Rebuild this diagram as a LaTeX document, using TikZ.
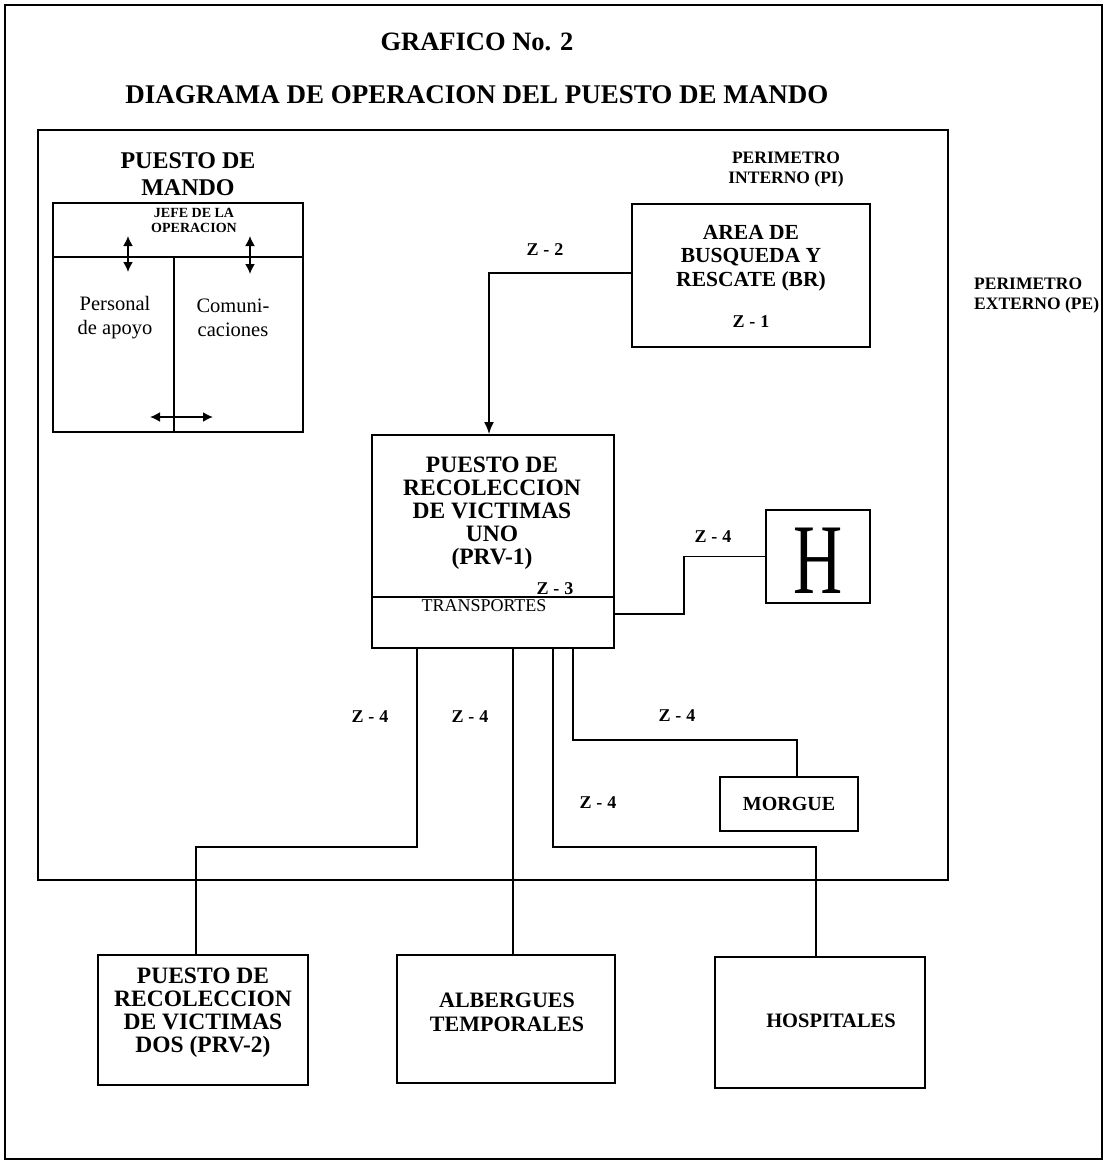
\documentclass[tikz,border=0pt]{standalone}
\usepackage{fontspec}
\setmainfont{Liberation Serif}
\usetikzlibrary{arrows.meta}
\newcommand{\zsp}{\hspace{5pt}}
\begin{document}
\begin{tikzpicture}[x=1pt,y=-1pt,
  box/.style={draw, line width=2pt, inner sep=0pt},
  conn/.style={line width=1.6pt},
  thickconn/.style={line width=2.8pt},
  dbl/.style={line width=1.8pt, {Latex[length=10pt,width=10pt]}-{Latex[length=10pt,width=10pt]}},
  lbl/.style={font=\fontsize{23.5}{23}\selectfont\bfseries, align=center, inner sep=0pt},
  zl/.style={font=\fontsize{18}{20}\selectfont\bfseries, inner sep=0pt},
  sm/.style={font=\fontsize{17.5}{20}\selectfont\bfseries, align=left, inner sep=0pt}]
\useasboundingbox (0,0) rectangle (1105,1163);
% outer frame (PE)
\node[draw, line width=1.5pt, minimum width=1097pt, minimum height=1154pt] (pe) at (553.5,582) {};
% titles
\node[font=\fontsize{26.5}{28}\selectfont\bfseries] (t1) at (477,42) {GRAFICO No. 2};
\node[font=\fontsize{27}{28}\selectfont\bfseries] (t2) at (477,95) {DIAGRAMA DE OPERACION DEL PUESTO DE MANDO};
% inner perimeter (PI)
\node[box, line width=2.4pt, minimum width=910pt, minimum height=750pt] (pi) at (493,505) {};
% Puesto de mando
\node[lbl, font=\fontsize{24}{27}\selectfont\bfseries] (pmt) at (188,174) {PUESTO DE\\MANDO};
\node[box, minimum width=250pt, minimum height=229pt] (pm) at (178,317.5) {};
\coordinate (pmdiv) at (174,257);
\draw[line width=1.6pt] (pm.west |- pmdiv) -- (pm.east |- pmdiv);
\draw[line width=2.6pt] (pmdiv) -- (pm.south -| pmdiv);
\node[font=\fontsize{14}{15}\selectfont\bfseries, align=center, inner sep=0pt] (jefe) at (194,220) {JEFE DE LA\\OPERACION};
\coordinate (a1t) at (128,236); \coordinate (a1b) at (128,272);
\coordinate (a2t) at (250,236); \coordinate (a2b) at (250,274);
\coordinate (a3l) at (150,417); \coordinate (a3r) at (213,417);
\draw[dbl] (a1t) -- (a1b);
\draw[dbl] (a2t) -- (a2b);
\draw[dbl] (a3l) -- (a3r);
\node[font=\fontsize{20.5}{24}\selectfont, align=center, inner sep=0pt] (pers) at (115,318) {Personal\\de apoyo};
\node[font=\fontsize{20.5}{24}\selectfont, align=center, inner sep=0pt] (comu) at (233,318) {Comuni-\\caciones};
% perimeter labels
\node[sm, align=center] (pit) at (786,170) {PERIMETRO\\INTERNO (PI)};
\node[sm, anchor=west] (pet) at (974,296) {PERIMETRO\\EXTERNO (PE)};
% BR
\node[box, minimum width=238pt, minimum height=143pt] (br) at (751,275.5) {};
\node[lbl, font=\fontsize{21.5}{23.5}\selectfont\bfseries] (brt) at (751,258) {AREA DE\\BUSQUEDA Y\\RESCATE (BR)};
\node[zl] (z1) at (751,322) {Z\zsp-\zsp1};
% PRV-1
\node[box, minimum width=242pt, minimum height=213pt] (prv1) at (493,541.5) {};
\coordinate (prvdiv) at (493,597);
\draw[line width=1.6pt] (prv1.west |- prvdiv) -- (prv1.east |- prvdiv);
\node[lbl] (prv1t) at (492,513) {PUESTO DE\\RECOLECCION\\DE VICTIMAS\\UNO\\(PRV-1)};
\node[zl] (z3) at (555,589) {Z\zsp-\zsp3};
\node[font=\fontsize{18}{20}\selectfont, inner sep=0pt] (trans) at (484,606) {TRANSPORTES};
% H box
\node[box, minimum width=104pt, minimum height=93pt] (hbox) at (818,556.5) {};
\node[font=\fontsize{100}{100}\selectfont, inner sep=0pt] (hl) at (818,561) {\scalebox{0.68}[1]{H}};
% Morgue
\node[box, minimum width=138pt, minimum height=54pt, font=\fontsize{20}{22}\selectfont\bfseries] (morgue) at (789,804) {MORGUE};
% bottom boxes
\node[box, minimum width=210pt, minimum height=130pt] (prv2) at (203,1020) {};
\node[lbl] (prv2t) at (203,1013) {PUESTO DE\\RECOLECCION\\DE VICTIMAS\\DOS (PRV-2)};
\node[box, minimum width=218pt, minimum height=128pt] (alb) at (506,1019) {};
\node[lbl, font=\fontsize{22}{24}\selectfont\bfseries] (albt) at (507,1012) {ALBERGUES\\TEMPORALES};
\node[box, minimum width=210pt, minimum height=131pt] (hosp) at (820,1022.5) {};
\node[lbl, font=\fontsize{20.5}{22}\selectfont\bfseries] (hospt) at (831,1021) {HOSPITALES};
% connectors
\coordinate (c2a) at (489,273);
\draw[conn, -{Latex[length=12pt,width=10pt]}] (br.west |- c2a) -| ([xshift=-4pt]prv1.north);
\node[zl] (z2) at (545,250) {Z\zsp-\zsp2};
\coordinate (ch) at (684,614);
\draw[conn, line width=1.3pt] (prv1.east |- ch) -- (ch) |- (hbox.west);
\node[zl] (z4h) at (713,537) {Z\zsp-\zsp4};
\coordinate (b1) at (417,847);
\draw[conn, line width=1.4pt] (prv1.south -| b1) -- (b1) -| ([xshift=-7pt]prv2.north);
\coordinate (b2) at (513,700);
\draw[thickconn] (prv1.south -| b2) -- (alb.north -| b2);
\coordinate (b3) at (553,847);
\draw[thickconn, line width=2.4pt] (prv1.south -| b3) -- (b3) -| ([xshift=-4pt]hosp.north);
\coordinate (b4) at (573,740);
\draw[conn, line width=2pt] (prv1.south -| b4) -- (b4) -| ([xshift=8pt]morgue.north);
\node[zl] (z4a) at (370,717) {Z\zsp-\zsp4};
\node[zl] (z4b) at (470,717) {Z\zsp-\zsp4};
\node[zl] (z4c) at (677,716) {Z\zsp-\zsp4};
\node[zl] (z4d) at (598,803) {Z\zsp-\zsp4};
\end{tikzpicture}
\end{document}
